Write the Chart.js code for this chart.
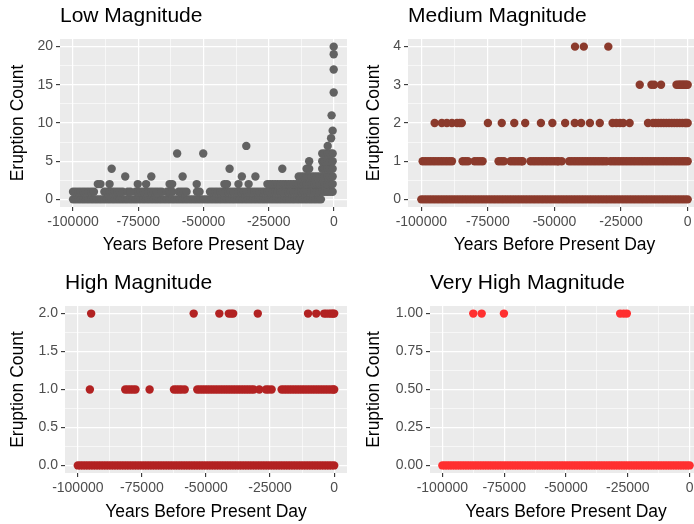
<!DOCTYPE html>
<html lang="en">
<head>
  <meta charset="UTF-8">
  <title>Eruption Counts by Magnitude</title>
  <script src="https://cdn.jsdelivr.net/npm/chart.js"></script>
  <style>
    html, body { margin: 0; padding: 0; background: #fff; overflow: hidden; }
    body { width: 694px; height: 524px; position: relative; }
    canvas { position: absolute; }
  </style>
</head>
<body>
  <canvas id="lowChart" width="347" height="262" style="left:0;top:0"></canvas>
  <canvas id="mediumChart" width="354" height="262" style="left:347px;top:0"></canvas>
  <canvas id="highChart" width="347" height="262" style="left:0;top:267px"></canvas>
  <canvas id="veryHighChart" width="355" height="262" style="left:347px;top:267px"></canvas>

  <script>
    // years are kept in thousands of years (kyr) before present, plotted x1000
    var binKyr = [-100,-99,-98,-97,-96,-95,-94,-93,-92,-91,-90,-89,-88,-87,-86,-85,-84,-83,-82,-81,
      -80,-79,-78,-77,-76,-75,-74,-73,-72,-71,-70,-69,-68,-67,-66,-65,-64,-63,-62,-61,
      -60,-59,-58,-57,-56,-55,-54,-53,-52,-51,-50,-49,-48,-47,-46,-45,-44,-43,-42,-41,
      -40,-39,-38,-37,-36,-35,-34,-33,-32,-31,-30,-29,-28,-27,-26,-25,-24,-23,-22,-21,
      -20,-19,-18,-17,-16,-15,-14,-13,-12,-11,-10,-9,-8,-7,-6,-5,-4,-3,-2,-1,0];

    var xTicks = [-100000, -75000, -50000, -25000, 0];
    var lowYTicks = [0, 5, 10, 15, 20];
    var mediumYTicks = [0, 1, 2, 3, 4];
    var highYTicks = [0, 0.5, 1, 1.5, 2];
    var veryHighYTicks = [0, 0.25, 0.5, 0.75, 1];

    // each row: [eruption count, [kyr, ...]]
    var lowRows = [
      [0, binKyr.filter(k => k <= -5)],
      [1, [-100,-99,-98,-97,-96,-95,-94,-93,-92, -88,-87,-86,-85,-84,-83,-82,-81, -79,-78,
           -76,-75,-74,-73,-72,-71,-70,-69,-68,-67,-66, -64,-63,-62, -59.5,-58.5,-57.5,-56.5,
           -52.5,-51.5, -47.5,-46.5,-45.5,-44.5,-43.5,-42.5,-41.5,-40.5,-39.5,-38.5,-37.5,-36.5,
           -35.5,-34.5,-33.5,-32.5,-31.5,-30.5,-29.5,-28.5,-27.5,-26.5,-25.5,-24.5,-23.5,-22.5,
           -21.5,-20.5,-19.5,-18.5,-17.5,-16.5,-15.5,-14.5,-13.5,-12.5,-11.5,-10.5,-9.5,-8.5,
           -7.5,-6.5,-5.5,-4.5,-3.5,-2.5,-1.5,-0.5]],
      [2, [-90.5,-89.5,-86,-75.2,-72,-63,-62,-52.6,-42,-41,-36.6,-32.7, -25.5,-24.5,-23.5,-22.5,
           -21.5,-20.5,-19.5,-18.5,-17.5,-16.5,-15.5,-14.5,-13.5,-12.5,-11.5,-10.5,-9.5,-8.5,
           -7.5,-6.5,-5.5,-4.5,-3.5,-2.5,-1.5,-0.5]],
      [3, [-80,-70,-58,-35.3,-30.1, -13.5,-12.5,-11.5,-10.5,-9.5,-8.5,-7.5,-6.5,-5.5,-4.5,-3.5,-2.5,-1.5,-0.5]],
      [4, [-85.2,-40,-19.8,-10.5,-9.5,-4.5,-3.5,-2.5,-1.5,-0.5]],
      [5, [-9.5,-4.5,-3.5,-2.5,-1.5,-0.5]],
      [6, [-60.1,-50.1,-4.5,-3.5,-2.5,-1.5,-0.5]],
      [7, [-33.6,-2.4]],
      [8, [-1.1]],
      [9, [-0.5]],
      [11, [-0.9]],
      [14, [-0.1]],
      [17, [-0.1]],
      [19, [-0.1]],
      [20, [-0.1]]
    ];

    var mediumRows = [
      [0, binKyr],
      [1, [-99.5,-98.5,-97.5,-96.5,-95.5,-94.5,-93.5,-92.5,-91.5,-90.5,-89.5,-88.5, -84.5,-83.5,-82.5,
           -80,-79,-78,-77, -71,-70,-69, -66.5,-65.5,-64.5,-63.5,-62.5,-62,
           -59,-58,-57,-56,-55,-54,-53,-52,-51,-50,-49,-48.5,-47.3,
           -44.5,-43.5,-42.5,-41.5,-40.5,-39.5,-38.5,-37.5,-36.5,-35.5,-34.5,-33.5,-32.5,-31.5,-30.5,
           -29,-28,-27,-26,-25,-24,-23,-22,-21,-20,-19,-18,-17,-16,-15,-14,-13,-12,-11,-10,
           -9,-8,-7,-6,-5,-4,-3,-2,-1,0]],
      [2, [-95,-92.3,-90.4,-88.5,-86.6,-85.6,-84.8,-75,-69.8,-65.1,-61,-55.1,-50.8,-46,-42.4,-40,
           -36.7,-33,-28.2,-26.8,-25.4,-24.2,-21.8,-14.9,-13,-12,-11,-10,-9,-8,-7,-6,-5,-4,-3,-2,-1,-0.5,0]],
      [3, [-18,-13.6,-12.6,-10,-4.2,-3.5,-3,-2.5,-2,-1.5,-1,-0.5,0]],
      [4, [-42.3,-39,-29.8]]
    ];

    var highRows = [
      [0, binKyr],
      [1, [-95.3, -81.5,-80.5,-79.5,-78.5,-77.5, -72, -62.5,-61.5,-60.5,-59.5,-58.3,
           -53.4,-52.4,-51.4,-50.4,-49.4,-48.4,-47.4,-46.4,-45.4,-44.4,-43.4,-42.4,-41.4,-40.4,
           -39.4,-38.4,-37.4,-36.4,-35.4,-34.4,-33.4,-32.4,-31.4, -29.2, -26.6,-25.6,-24.4,
           -20.5,-19.5,-18.5,-17.5,-16.5,-15.5,-14.5,-13.5,-12.5,-11.5,-10.5,-9.5,-8.5,-7.5,
           -6.5,-5.5,-4.5,-3.5,-2.5,-1.5,-0.5,0]],
      [2, [-94.8,-54.8,-44.8,-41.1,-40.2,-39.4,-29.8,-10.2,-7,-3.9,-3,-2,-1.2,-0.5,0]]
    ];

    var veryHighRows = [
      [0, binKyr],
      [1, [-87.5,-84.1,-75.1,-28.1,-26.7,-25.4]]
    ];

    Chart.defaults.font.family = "'Liberation Sans', Arial, Helvetica, sans-serif";

    var panelBackground = {
      id: 'panelBackground',
      beforeDraw: function (chart) {
        var a = chart.chartArea;
        var c = chart.ctx;
        c.save();
        c.fillStyle = '#EBEBEB';
        c.fillRect(a.left, a.top, a.right - a.left, a.bottom - a.top);
        c.restore();
      }
    };

    function midpoints(ticks) {
      return ticks.slice(1).map((v, i) => (v + ticks[i]) / 2);
    }

    function makeChart(id, title, rows, color, yTicks, yPad, decimals, box) {
      var points = [];
      rows.forEach(function (row) {
        row[1].forEach(function (k) { points.push({ x: k * 1000, y: row[0] }); });
      });

      var xAll = xTicks.concat(midpoints(xTicks));
      var yAll = yTicks.concat(midpoints(yTicks));
      var isMajorX = v => xTicks.indexOf(v) >= 0;
      var isMajorY = v => yTicks.indexOf(v) >= 0;

      function gridFor(isMajor) {
        return {
          color: '#FFFFFF',
          lineWidth: ctx => (ctx.tick && !isMajor(ctx.tick.value)) ? 0.6 : 1.2,
          tickColor: ctx => (ctx.tick && !isMajor(ctx.tick.value)) ? 'rgba(0,0,0,0)' : '#333333',
          tickWidth: 1.1,
          tickLength: 4,
          drawTicks: true
        };
      }

      return new Chart(document.getElementById(id), {
        type: 'scatter',
        data: {
          datasets: [{
            data: points,
            pointRadius: 4.2,
            pointHoverRadius: 4.2,
            pointBorderWidth: 0,
            pointBackgroundColor: color,
            backgroundColor: color,
            borderColor: color
          }]
        },
        options: {
          responsive: false,
          animation: false,
          devicePixelRatio: 1,
          events: [],
          layout: { padding: 0, autoPadding: false },
          plugins: {
            legend: { display: false },
            tooltip: { enabled: false },
            title: {
              display: true,
              text: title,
              align: 'start',
              fullSize: false,
              color: '#000000',
              font: { size: 21, weight: 'normal', lineHeight: 1.2 },
              padding: { top: 3.9, bottom: 9.9 }
            }
          },
          scales: {
            x: {
              type: 'linear',
              min: -105000,
              max: 5000,
              afterBuildTicks: s => { s.ticks = xAll.map(v => ({ value: v })); },
              afterFit: s => { s.height = box.xHeight; s.paddingLeft = 0; s.paddingRight = 0; },
              border: { display: false },
              grid: gridFor(isMajorX),
              ticks: {
                autoSkip: false, maxRotation: 0, minRotation: 0, padding: 3,
                color: '#4D4D4D', font: { size: 14 },
                callback: v => isMajorX(v) ? String(v) : ''
              },
              title: {
                display: true, text: 'Years Before Present Day', color: '#000000',
                font: { size: 17.5 }, padding: { top: 0, bottom: box.xTitlePad }
              }
            },
            y: {
              type: 'linear',
              min: -yPad,
              max: yTicks[yTicks.length - 1] + yPad,
              afterBuildTicks: s => { s.ticks = yAll.map(v => ({ value: v })); },
              afterFit: s => { s.width = box.yWidth; s.paddingTop = 0; s.paddingBottom = 0; },
              border: { display: false },
              grid: gridFor(isMajorY),
              ticks: {
                autoSkip: false, padding: 3,
                color: '#4D4D4D', font: { size: 14 },
                callback: v => isMajorY(v) ? v.toFixed(decimals) : ''
              },
              title: {
                display: true, text: 'Eruption Count', color: '#000000',
                font: { size: 17.5 }, padding: { top: box.yTitlePad, bottom: 0 }
              }
            }
          }
        },
        plugins: [panelBackground]
      });
    }

    makeChart('lowChart', 'Low Magnitude', lowRows, '#626262', lowYTicks, 1, 0,
      { yWidth: 60, xHeight: 55, yTitlePad: 7.5, xTitlePad: 6.5 });
    makeChart('mediumChart', 'Medium Magnitude', mediumRows, '#8B3A2C', mediumYTicks, 0.2, 0,
      { yWidth: 61, xHeight: 55, yTitlePad: 16.5, xTitlePad: 6.5 });
    makeChart('highChart', 'High Magnitude', highRows, '#B22222', highYTicks, 0.1, 1,
      { yWidth: 65, xHeight: 56, yTitlePad: 8, xTitlePad: 5.9 });
    makeChart('veryHighChart', 'Very High Magnitude', veryHighRows, '#FF3030', veryHighYTicks, 0.05, 2,
      { yWidth: 83, xHeight: 56, yTitlePad: 16.5, xTitlePad: 5.9 });
  </script>
</body>
</html>
